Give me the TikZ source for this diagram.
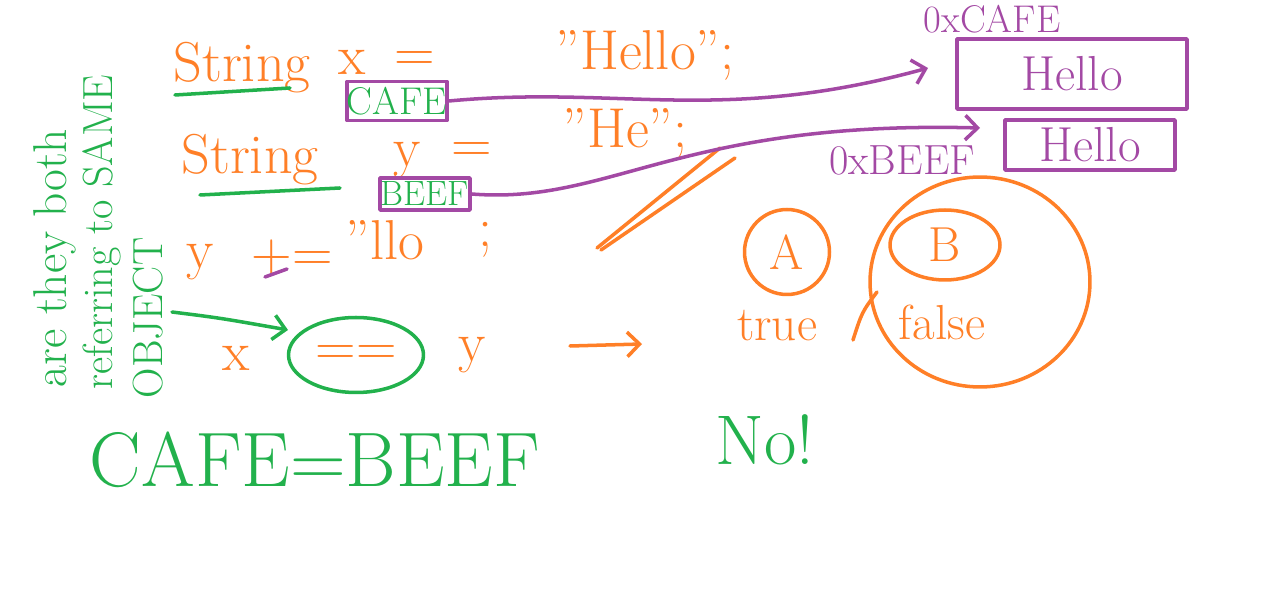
\documentclass[tikz,border=0pt]{standalone}
\usetikzlibrary{arrows.meta,shapes.geometric}
\definecolor{og}{RGB}{255,127,39}
\definecolor{gr}{RGB}{34,177,76}
\definecolor{pu}{RGB}{163,73,164}
\begin{document}
\begin{tikzpicture}[x=0.02cm,y=-0.02cm,
  otext/.style={text=og, font=\fontsize{32}{36}\selectfont, inner sep=0pt},
  gtext/.style={text=gr, inner sep=0pt},
  ptext/.style={text=pu, inner sep=0pt},
  stroke/.style={line width=2pt, line cap=round, line join=round},
  barb/.style={-{Straight Barb[length=7pt,width=14pt,line width=2pt]}}]
\useasboundingbox (0,0) rectangle (1268,590);

% rotated question
\node[gtext, rotate=90, font=\fontsize{27}{30}\selectfont] (q1) at (55,258) {are they both};
\node[gtext, rotate=90, font=\fontsize{24}{28}\selectfont] (q2) at (102,232) {referring to SAME};
\node[gtext, rotate=90, font=\fontsize{24}{28}\selectfont] (q3) at (148,318) {OBJECT};

% row 1
\node[otext] (s1) at (242,68) {String};
\node[otext] (x1) at (352,62) {x};
\node[otext] (e1) at (415,62) {=};
\node[otext] (v1) at (645,55) {"Hello";};
\coordinate (u1a) at (175,95);
\coordinate (u1b) at (290,88);
\draw[stroke, gr] (u1a) -- (u1b);
\node[draw=pu, stroke, minimum width=2cm, minimum height=0.78cm, text=gr, font=\fontsize{22}{26}\selectfont, inner sep=0pt] (cafe) at (397,101) {CAFE};

% row 2
\node[otext] (s2) at (250,160) {String};
\node[otext] (y2) at (407,160) {y};
\node[otext] (e2) at (472,152) {=};
\node[otext] (v2) at (625,133) {"He";};
\coordinate (u2a) at (200,195);
\coordinate (u2b) at (340,188);
\draw[stroke, gr] (u2a) -- (u2b);
\node[draw=pu, stroke, minimum width=1.8cm, minimum height=0.64cm, text=gr, font=\fontsize{20}{24}\selectfont, inner sep=0pt] (beef) at (425,194) {BEEF};

% strike
\coordinate (k1a) at (597,248);
\coordinate (k1b) at (720,148);
\coordinate (k2a) at (601,250);
\coordinate (k2b) at (735,158);
\draw[stroke, og] (k1a) -- (k1b);
\draw[stroke, og] (k2a) -- (k2b);

% row 3
\node[otext] (y3) at (200,262) {y};
\node[otext] (pe) at (292,257) {+=};
\coordinate (pua) at (265,277);
\coordinate (pub) at (287,269);
\draw[stroke, pu] (pua) -- (pub);
\node[otext] (v3) at (385,240) {"llo};
\node[otext] (sc3) at (486,240) {;};

% memory
\node[ptext, font=\fontsize{22}{26}\selectfont] (adr1) at (992,19) {0xCAFE};
\node[draw=pu, stroke, minimum width=4.6cm, minimum height=1.4cm, text=pu, font=\fontsize{28}{32}\selectfont, inner sep=0pt] (hello1) at (1072,74) {Hello};
\node[ptext, font=\fontsize{24}{28}\selectfont] (adr2) at (902,160) {0xBEEF};
\node[draw=pu, stroke, minimum width=3.4cm, minimum height=1cm, text=pu, font=\fontsize{28}{32}\selectfont, inner sep=0pt] (hello2) at (1090,145) {Hello};
\coordinate (h1in) at (928,68);
\coordinate (h2in) at (980,128);
\draw[stroke, pu, barb] (cafe.east) .. controls (620,85) and (720,125) .. (h1in);
\draw[stroke, pu, barb] (beef.east) .. controls (610,205) and (680,120) .. (h2in);

% comparison
\coordinate (ga) at (172,312);
\coordinate (gb) at (288,330);
\draw[stroke, gr, barb] (ga) .. controls (220,318) .. (gb);
\node[otext] (x4) at (236,358) {x};
\node[draw=gr, stroke, ellipse, minimum width=2.7cm, minimum height=1.5cm, otext] (eq) at (356,355) {==};
\node[otext] (y4) at (472,355) {y};
\coordinate (ra) at (570,346);
\coordinate (rb) at (642,344);
\draw[stroke, og, barb] (ra) -- (rb);

% answers
\node[draw=og, stroke, circle, minimum size=1.7cm, otext, font=\fontsize{28}{32}\selectfont] (a) at (787,252) {A};
\node[otext, font=\fontsize{28}{32}\selectfont] (tr) at (777,326) {true};
\node[draw=og, stroke, ellipse, minimum width=2.2cm, minimum height=1.4cm, otext, font=\fontsize{28}{32}\selectfont] (b) at (945,245) {B};
\node[otext, font=\fontsize{28}{32}\selectfont] (fa) at (942,322) {false};
\node[draw=og, stroke, ellipse, minimum width=4.4cm, minimum height=4.2cm] (big) at (980,282) {};
\coordinate (pa) at (853,340);
\coordinate (pb) at (877,292);
\draw[stroke, og] (pa) .. controls (862,312) .. (pb);

% bottom
\node[gtext, font=\fontsize{44}{48}\selectfont] (cb) at (315,460) {CAFE=BEEF};
\node[gtext, font=\fontsize{40}{44}\selectfont] (no) at (765,440) {No!};
\end{tikzpicture}
\end{document}
